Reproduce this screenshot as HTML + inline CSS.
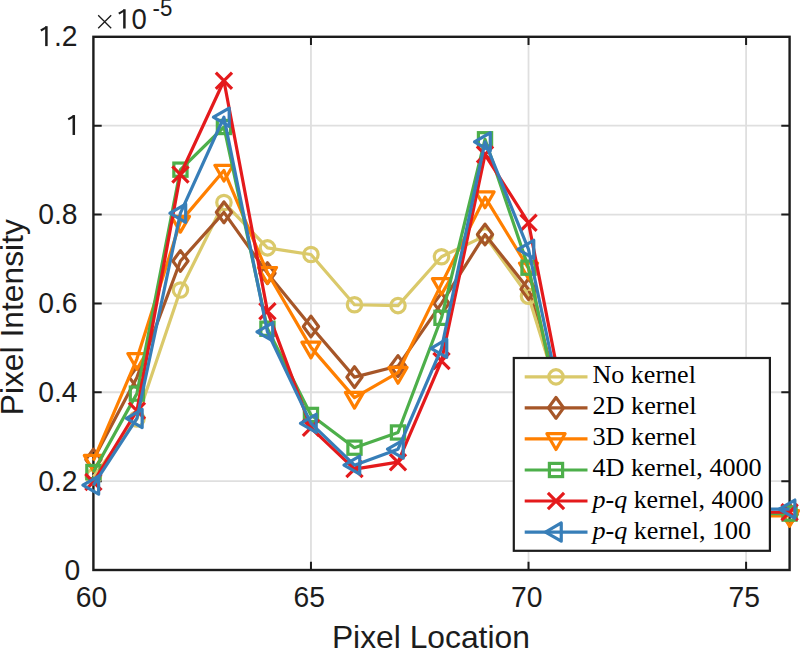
<!DOCTYPE html>
<html><head><meta charset="utf-8"><title>Pixel Intensity chart</title>
<style>
html,body{margin:0;padding:0;background:#fff;}
body{width:800px;height:649px;overflow:hidden;}
svg{display:block;}
</style></head>
<body>
<svg width="800" height="649" viewBox="0 0 800 649">
<rect x="0" y="0" width="800" height="649" fill="#fff"/>
<path d="M310.96,36.80V570.00M528.52,36.80V570.00M746.09,36.80V570.00M93.40,481.13H789.60M93.40,392.27H789.60M93.40,303.40H789.60M93.40,214.53H789.60M93.40,125.67H789.60" stroke="#dfdfdf" stroke-width="1.8" fill="none"/>
<path d="M310.96,570.00v-8.3M310.96,36.80v8.3M528.52,570.00v-8.3M528.52,36.80v8.3M746.09,570.00v-8.3M746.09,36.80v8.3M93.40,481.13h8.3M789.60,481.13h-8.3M93.40,392.27h8.3M789.60,392.27h-8.3M93.40,303.40h8.3M789.60,303.40h-8.3M93.40,214.53h8.3M789.60,214.53h-8.3M93.40,125.67h8.3M789.60,125.67h-8.3" stroke="#1c1c1c" stroke-width="2.0" fill="none"/>
<rect x="93.40" y="36.80" width="696.20" height="533.20" fill="none" stroke="#1c1c1c" stroke-width="2.4"/>
<defs><clipPath id="c"><rect x="93.4" y="36.8" width="696.2" height="533.2"/></clipPath></defs>
<g>
<polyline points="528.52,289.18 572.04,434.02 615.55,507.79 659.06,512.24 702.58,512.24 746.09,514.46 789.60,514.46" fill="none" stroke="#a65628" stroke-width="3.2" stroke-linejoin="round"/>
<polyline points="93.40,476.69 136.91,418.93 180.43,290.07 223.94,202.54 267.45,247.86 310.96,254.52 354.48,304.73 397.99,305.62 441.50,256.75 485.01,235.86 528.52,296.29 572.04,437.06 615.55,507.79 659.06,512.24 702.58,512.24 746.09,514.46 789.60,514.46" fill="none" stroke="#dac96a" stroke-width="3.2" stroke-linejoin="round"/>
<circle cx="93.40" cy="476.69" r="7.2" fill="none" stroke="#dac96a" stroke-width="3.2"/>
<circle cx="136.91" cy="418.93" r="7.2" fill="none" stroke="#dac96a" stroke-width="3.2"/>
<circle cx="180.43" cy="290.07" r="7.2" fill="none" stroke="#dac96a" stroke-width="3.2"/>
<circle cx="223.94" cy="202.54" r="7.2" fill="none" stroke="#dac96a" stroke-width="3.2"/>
<circle cx="267.45" cy="247.86" r="7.2" fill="none" stroke="#dac96a" stroke-width="3.2"/>
<circle cx="310.96" cy="254.52" r="7.2" fill="none" stroke="#dac96a" stroke-width="3.2"/>
<circle cx="354.48" cy="304.73" r="7.2" fill="none" stroke="#dac96a" stroke-width="3.2"/>
<circle cx="397.99" cy="305.62" r="7.2" fill="none" stroke="#dac96a" stroke-width="3.2"/>
<circle cx="441.50" cy="256.75" r="7.2" fill="none" stroke="#dac96a" stroke-width="3.2"/>
<circle cx="485.01" cy="235.86" r="7.2" fill="none" stroke="#dac96a" stroke-width="3.2"/>
<circle cx="528.52" cy="296.29" r="7.2" fill="none" stroke="#dac96a" stroke-width="3.2"/>
<circle cx="572.04" cy="437.06" r="7.2" fill="none" stroke="#dac96a" stroke-width="3.2"/>
<circle cx="615.55" cy="507.79" r="7.2" fill="none" stroke="#dac96a" stroke-width="3.2"/>
<circle cx="659.06" cy="512.24" r="7.2" fill="none" stroke="#dac96a" stroke-width="3.2"/>
<circle cx="702.58" cy="512.24" r="7.2" fill="none" stroke="#dac96a" stroke-width="3.2"/>
<circle cx="746.09" cy="514.46" r="7.2" fill="none" stroke="#dac96a" stroke-width="3.2"/>
<circle cx="789.60" cy="514.46" r="7.2" fill="none" stroke="#dac96a" stroke-width="3.2"/>
<polyline points="93.40,459.58 136.91,377.38 180.43,260.97 223.94,212.31 267.45,273.19 310.96,326.51 354.48,377.16 397.99,366.05 441.50,303.40 485.01,234.53 528.52,289.18" fill="none" stroke="#a65628" stroke-width="3.2" stroke-linejoin="round"/>
<polygon points="93.40,449.18 101.00,459.58 93.40,469.98 85.80,459.58" fill="none" stroke="#a65628" stroke-width="3.2" stroke-linejoin="round"/>
<polygon points="136.91,366.98 144.51,377.38 136.91,387.78 129.31,377.38" fill="none" stroke="#a65628" stroke-width="3.2" stroke-linejoin="round"/>
<polygon points="180.43,250.57 188.03,260.97 180.43,271.37 172.83,260.97" fill="none" stroke="#a65628" stroke-width="3.2" stroke-linejoin="round"/>
<polygon points="223.94,201.91 231.54,212.31 223.94,222.71 216.34,212.31" fill="none" stroke="#a65628" stroke-width="3.2" stroke-linejoin="round"/>
<polygon points="267.45,262.79 275.05,273.19 267.45,283.59 259.85,273.19" fill="none" stroke="#a65628" stroke-width="3.2" stroke-linejoin="round"/>
<polygon points="310.96,316.11 318.56,326.51 310.96,336.91 303.36,326.51" fill="none" stroke="#a65628" stroke-width="3.2" stroke-linejoin="round"/>
<polygon points="354.48,366.76 362.08,377.16 354.48,387.56 346.88,377.16" fill="none" stroke="#a65628" stroke-width="3.2" stroke-linejoin="round"/>
<polygon points="397.99,355.65 405.59,366.05 397.99,376.45 390.39,366.05" fill="none" stroke="#a65628" stroke-width="3.2" stroke-linejoin="round"/>
<polygon points="441.50,293.00 449.10,303.40 441.50,313.80 433.90,303.40" fill="none" stroke="#a65628" stroke-width="3.2" stroke-linejoin="round"/>
<polygon points="485.01,224.13 492.61,234.53 485.01,244.93 477.41,234.53" fill="none" stroke="#a65628" stroke-width="3.2" stroke-linejoin="round"/>
<polygon points="528.52,278.78 536.12,289.18 528.52,299.58 520.92,289.18" fill="none" stroke="#a65628" stroke-width="3.2" stroke-linejoin="round"/>
<polygon points="572.04,423.62 579.64,434.02 572.04,444.42 564.44,434.02" fill="none" stroke="#a65628" stroke-width="3.2" stroke-linejoin="round"/>
<polygon points="615.55,497.39 623.15,507.79 615.55,518.19 607.95,507.79" fill="none" stroke="#a65628" stroke-width="3.2" stroke-linejoin="round"/>
<polygon points="659.06,501.84 666.66,512.24 659.06,522.64 651.46,512.24" fill="none" stroke="#a65628" stroke-width="3.2" stroke-linejoin="round"/>
<polygon points="702.58,501.84 710.18,512.24 702.58,522.64 694.98,512.24" fill="none" stroke="#a65628" stroke-width="3.2" stroke-linejoin="round"/>
<polygon points="746.09,504.06 753.69,514.46 746.09,524.86 738.49,514.46" fill="none" stroke="#a65628" stroke-width="3.2" stroke-linejoin="round"/>
<polygon points="789.60,504.06 797.20,514.46 789.60,524.86 782.00,514.46" fill="none" stroke="#a65628" stroke-width="3.2" stroke-linejoin="round"/>
<polyline points="93.40,460.69 136.91,358.81 180.43,221.64 223.94,170.54 267.45,272.74 310.96,347.39 354.48,397.60 397.99,372.72 441.50,283.85 485.01,197.20 528.52,268.30 572.04,468.72 615.55,507.79 659.06,512.24 702.58,515.79 746.09,515.79 789.60,515.79" fill="none" stroke="#ff7f00" stroke-width="3.2" stroke-linejoin="round"/>
<polygon points="93.40,471.19 102.49,455.44 84.31,455.44" fill="none" stroke="#ff7f00" stroke-width="3.2" stroke-linejoin="round"/>
<polygon points="136.91,369.31 146.01,353.56 127.82,353.56" fill="none" stroke="#ff7f00" stroke-width="3.2" stroke-linejoin="round"/>
<polygon points="180.43,232.14 189.52,216.39 171.33,216.39" fill="none" stroke="#ff7f00" stroke-width="3.2" stroke-linejoin="round"/>
<polygon points="223.94,181.04 233.03,165.29 214.84,165.29" fill="none" stroke="#ff7f00" stroke-width="3.2" stroke-linejoin="round"/>
<polygon points="267.45,283.24 276.54,267.49 258.36,267.49" fill="none" stroke="#ff7f00" stroke-width="3.2" stroke-linejoin="round"/>
<polygon points="310.96,357.89 320.06,342.14 301.87,342.14" fill="none" stroke="#ff7f00" stroke-width="3.2" stroke-linejoin="round"/>
<polygon points="354.48,408.10 363.57,392.35 345.38,392.35" fill="none" stroke="#ff7f00" stroke-width="3.2" stroke-linejoin="round"/>
<polygon points="397.99,383.22 407.08,367.47 388.89,367.47" fill="none" stroke="#ff7f00" stroke-width="3.2" stroke-linejoin="round"/>
<polygon points="441.50,294.35 450.59,278.60 432.41,278.60" fill="none" stroke="#ff7f00" stroke-width="3.2" stroke-linejoin="round"/>
<polygon points="485.01,207.70 494.11,191.95 475.92,191.95" fill="none" stroke="#ff7f00" stroke-width="3.2" stroke-linejoin="round"/>
<polygon points="528.52,278.80 537.62,263.05 519.43,263.05" fill="none" stroke="#ff7f00" stroke-width="3.2" stroke-linejoin="round"/>
<polygon points="572.04,479.22 581.13,463.47 562.94,463.47" fill="none" stroke="#ff7f00" stroke-width="3.2" stroke-linejoin="round"/>
<polygon points="615.55,518.29 624.64,502.54 606.46,502.54" fill="none" stroke="#ff7f00" stroke-width="3.2" stroke-linejoin="round"/>
<polygon points="659.06,522.74 668.16,506.99 649.97,506.99" fill="none" stroke="#ff7f00" stroke-width="3.2" stroke-linejoin="round"/>
<polygon points="702.58,526.29 711.67,510.54 693.48,510.54" fill="none" stroke="#ff7f00" stroke-width="3.2" stroke-linejoin="round"/>
<polygon points="746.09,526.29 755.18,510.54 736.99,510.54" fill="none" stroke="#ff7f00" stroke-width="3.2" stroke-linejoin="round"/>
<polygon points="789.60,526.29 798.69,510.54 780.51,510.54" fill="none" stroke="#ff7f00" stroke-width="3.2" stroke-linejoin="round"/>
<polyline points="93.40,472.02 136.91,393.60 180.43,169.66 223.94,127.00 267.45,328.73 310.96,414.93 354.48,447.68 397.99,432.48 441.50,317.80 485.01,139.26 528.52,267.68 572.04,469.49 615.55,507.79 659.06,512.24 702.58,513.57 746.09,513.57 789.60,513.57" fill="none" stroke="#4daf4a" stroke-width="3.2" stroke-linejoin="round"/>
<rect x="86.80" y="465.42" width="13.20" height="13.20" fill="none" stroke="#4daf4a" stroke-width="3.2"/>
<rect x="130.31" y="387.00" width="13.20" height="13.20" fill="none" stroke="#4daf4a" stroke-width="3.2"/>
<rect x="173.83" y="163.06" width="13.20" height="13.20" fill="none" stroke="#4daf4a" stroke-width="3.2"/>
<rect x="217.34" y="120.40" width="13.20" height="13.20" fill="none" stroke="#4daf4a" stroke-width="3.2"/>
<rect x="260.85" y="322.13" width="13.20" height="13.20" fill="none" stroke="#4daf4a" stroke-width="3.2"/>
<rect x="304.36" y="408.33" width="13.20" height="13.20" fill="none" stroke="#4daf4a" stroke-width="3.2"/>
<rect x="347.88" y="441.08" width="13.20" height="13.20" fill="none" stroke="#4daf4a" stroke-width="3.2"/>
<rect x="391.39" y="425.88" width="13.20" height="13.20" fill="none" stroke="#4daf4a" stroke-width="3.2"/>
<rect x="434.90" y="311.20" width="13.20" height="13.20" fill="none" stroke="#4daf4a" stroke-width="3.2"/>
<rect x="478.41" y="132.66" width="13.20" height="13.20" fill="none" stroke="#4daf4a" stroke-width="3.2"/>
<rect x="521.92" y="261.08" width="13.20" height="13.20" fill="none" stroke="#4daf4a" stroke-width="3.2"/>
<rect x="565.44" y="462.89" width="13.20" height="13.20" fill="none" stroke="#4daf4a" stroke-width="3.2"/>
<rect x="608.95" y="501.19" width="13.20" height="13.20" fill="none" stroke="#4daf4a" stroke-width="3.2"/>
<rect x="652.46" y="505.64" width="13.20" height="13.20" fill="none" stroke="#4daf4a" stroke-width="3.2"/>
<rect x="695.98" y="506.97" width="13.20" height="13.20" fill="none" stroke="#4daf4a" stroke-width="3.2"/>
<rect x="739.49" y="506.97" width="13.20" height="13.20" fill="none" stroke="#4daf4a" stroke-width="3.2"/>
<rect x="783.00" y="506.97" width="13.20" height="13.20" fill="none" stroke="#4daf4a" stroke-width="3.2"/>
<polyline points="93.40,482.02 136.91,410.71 180.43,174.54 223.94,80.79 267.45,311.18 310.96,427.81 354.48,469.14 397.99,462.20 441.50,360.99 485.01,154.55 528.52,222.75 572.04,445.04 615.55,507.79 659.06,512.24 702.58,512.24 746.09,512.24 789.60,512.24" fill="none" stroke="#e41a1c" stroke-width="3.2" stroke-linejoin="round"/>
<path d="M85.30,473.92L101.50,490.12M101.50,473.92L85.30,490.12" fill="none" stroke="#e41a1c" stroke-width="3.2"/>
<path d="M128.81,402.61L145.01,418.81M145.01,402.61L128.81,418.81" fill="none" stroke="#e41a1c" stroke-width="3.2"/>
<path d="M172.33,166.44L188.53,182.64M188.53,166.44L172.33,182.64" fill="none" stroke="#e41a1c" stroke-width="3.2"/>
<path d="M215.84,72.69L232.04,88.89M232.04,72.69L215.84,88.89" fill="none" stroke="#e41a1c" stroke-width="3.2"/>
<path d="M259.35,303.08L275.55,319.28M275.55,303.08L259.35,319.28" fill="none" stroke="#e41a1c" stroke-width="3.2"/>
<path d="M302.86,419.71L319.06,435.91M319.06,419.71L302.86,435.91" fill="none" stroke="#e41a1c" stroke-width="3.2"/>
<path d="M346.38,461.04L362.58,477.24M362.58,461.04L346.38,477.24" fill="none" stroke="#e41a1c" stroke-width="3.2"/>
<path d="M389.89,454.10L406.09,470.30M406.09,454.10L389.89,470.30" fill="none" stroke="#e41a1c" stroke-width="3.2"/>
<path d="M433.40,352.89L449.60,369.09M449.60,352.89L433.40,369.09" fill="none" stroke="#e41a1c" stroke-width="3.2"/>
<path d="M476.91,146.45L493.11,162.65M493.11,146.45L476.91,162.65" fill="none" stroke="#e41a1c" stroke-width="3.2"/>
<path d="M520.42,214.65L536.62,230.85M536.62,214.65L520.42,230.85" fill="none" stroke="#e41a1c" stroke-width="3.2"/>
<path d="M563.94,436.94L580.14,453.14M580.14,436.94L563.94,453.14" fill="none" stroke="#e41a1c" stroke-width="3.2"/>
<path d="M607.45,499.69L623.65,515.89M623.65,499.69L607.45,515.89" fill="none" stroke="#e41a1c" stroke-width="3.2"/>
<path d="M650.96,504.14L667.16,520.34M667.16,504.14L650.96,520.34" fill="none" stroke="#e41a1c" stroke-width="3.2"/>
<path d="M694.48,504.14L710.68,520.34M710.68,504.14L694.48,520.34" fill="none" stroke="#e41a1c" stroke-width="3.2"/>
<path d="M737.99,504.14L754.19,520.34M754.19,504.14L737.99,520.34" fill="none" stroke="#e41a1c" stroke-width="3.2"/>
<path d="M781.50,504.14L797.70,520.34M797.70,504.14L781.50,520.34" fill="none" stroke="#e41a1c" stroke-width="3.2"/>
<polyline points="93.40,485.13 136.91,418.48 180.43,213.20 223.94,117.22 267.45,331.84 310.96,423.37 354.48,465.14 397.99,449.14 441.50,348.28 485.01,141.84 528.52,249.37 572.04,454.21 615.55,507.79 659.06,509.13 702.58,509.13 746.09,509.13 789.60,509.13" fill="none" stroke="#377eb8" stroke-width="3.2" stroke-linejoin="round"/>
<polygon points="82.90,485.13 98.65,476.04 98.65,494.23" fill="none" stroke="#377eb8" stroke-width="3.2" stroke-linejoin="round"/>
<polygon points="126.41,418.48 142.16,409.39 142.16,427.58" fill="none" stroke="#377eb8" stroke-width="3.2" stroke-linejoin="round"/>
<polygon points="169.93,213.20 185.68,204.11 185.68,222.29" fill="none" stroke="#377eb8" stroke-width="3.2" stroke-linejoin="round"/>
<polygon points="213.44,117.22 229.19,108.13 229.19,126.32" fill="none" stroke="#377eb8" stroke-width="3.2" stroke-linejoin="round"/>
<polygon points="256.95,331.84 272.70,322.74 272.70,340.93" fill="none" stroke="#377eb8" stroke-width="3.2" stroke-linejoin="round"/>
<polygon points="300.46,423.37 316.21,414.28 316.21,432.46" fill="none" stroke="#377eb8" stroke-width="3.2" stroke-linejoin="round"/>
<polygon points="343.98,465.14 359.73,456.04 359.73,474.23" fill="none" stroke="#377eb8" stroke-width="3.2" stroke-linejoin="round"/>
<polygon points="387.49,449.14 403.24,440.05 403.24,458.23" fill="none" stroke="#377eb8" stroke-width="3.2" stroke-linejoin="round"/>
<polygon points="431.00,348.28 446.75,339.18 446.75,357.37" fill="none" stroke="#377eb8" stroke-width="3.2" stroke-linejoin="round"/>
<polygon points="474.51,141.84 490.26,132.75 490.26,150.93" fill="none" stroke="#377eb8" stroke-width="3.2" stroke-linejoin="round"/>
<polygon points="518.02,249.37 533.77,240.28 533.77,258.46" fill="none" stroke="#377eb8" stroke-width="3.2" stroke-linejoin="round"/>
<polygon points="561.54,454.21 577.29,445.12 577.29,463.31" fill="none" stroke="#377eb8" stroke-width="3.2" stroke-linejoin="round"/>
<polygon points="605.05,507.79 620.80,498.70 620.80,516.89" fill="none" stroke="#377eb8" stroke-width="3.2" stroke-linejoin="round"/>
<polygon points="648.56,509.13 664.31,500.03 664.31,518.22" fill="none" stroke="#377eb8" stroke-width="3.2" stroke-linejoin="round"/>
<polygon points="692.08,509.13 707.83,500.03 707.83,518.22" fill="none" stroke="#377eb8" stroke-width="3.2" stroke-linejoin="round"/>
<polygon points="735.59,509.13 751.34,500.03 751.34,518.22" fill="none" stroke="#377eb8" stroke-width="3.2" stroke-linejoin="round"/>
<polygon points="779.10,509.13 794.85,500.03 794.85,518.22" fill="none" stroke="#377eb8" stroke-width="3.2" stroke-linejoin="round"/>
</g>
<text transform="translate(91.60,606.8) scale(1,1.045)" font-size="28.3" text-anchor="middle" font-family="Liberation Sans, sans-serif" fill="#1c1c1c">60</text>
<text transform="translate(309.16,606.8) scale(1,1.045)" font-size="28.3" text-anchor="middle" font-family="Liberation Sans, sans-serif" fill="#1c1c1c">65</text>
<text transform="translate(526.73,606.8) scale(1,1.045)" font-size="28.3" text-anchor="middle" font-family="Liberation Sans, sans-serif" fill="#1c1c1c">70</text>
<text transform="translate(744.29,606.8) scale(1,1.045)" font-size="28.3" text-anchor="middle" font-family="Liberation Sans, sans-serif" fill="#1c1c1c">75</text>
<text transform="translate(80.2,579.50) scale(1,1.045)" font-size="28.3" text-anchor="end" font-family="Liberation Sans, sans-serif" fill="#1c1c1c">0</text>
<text transform="translate(77.5,490.63) scale(1,1.045)" font-size="28.3" text-anchor="end" font-family="Liberation Sans, sans-serif" fill="#1c1c1c">0.2</text>
<text transform="translate(77.5,401.77) scale(1,1.045)" font-size="28.3" text-anchor="end" font-family="Liberation Sans, sans-serif" fill="#1c1c1c">0.4</text>
<text transform="translate(77.5,312.90) scale(1,1.045)" font-size="28.3" text-anchor="end" font-family="Liberation Sans, sans-serif" fill="#1c1c1c">0.6</text>
<text transform="translate(77.5,224.03) scale(1,1.045)" font-size="28.3" text-anchor="end" font-family="Liberation Sans, sans-serif" fill="#1c1c1c">0.8</text>
<text transform="translate(77.5,46.30) scale(1,1.045)" font-size="28.3" text-anchor="end" font-family="Liberation Sans, sans-serif" fill="#1c1c1c">.2</text>
<path d="M72.55,134.97V115.07H75.05V134.97Z" fill="#1c1c1c"/><path d="M74.10,115.97L68.20,119.37" stroke="#1c1c1c" stroke-width="2.1" fill="none"/>
<path d="M45.15,46.10V26.20H47.65V46.10Z" fill="#1c1c1c"/><path d="M46.70,27.10L40.80,30.50" stroke="#1c1c1c" stroke-width="2.1" fill="none"/>
<path d="M98.2,15.2L111.2,28.2M111.2,15.2L98.2,28.2" stroke="#1c1c1c" stroke-width="1.3" fill="none"/>
<path d="M123.15,28.50V9.30H125.65V28.50Z" fill="#1c1c1c"/><path d="M124.70,10.20L118.80,13.60" stroke="#1c1c1c" stroke-width="2.1" fill="none"/>
<text transform="translate(131.6,28.5) scale(1,1.045)" font-size="27.5" font-family="Liberation Sans, sans-serif" fill="#1c1c1c">0</text>
<text transform="translate(152.6,15.7) scale(1,1.06)" font-size="22.3" font-family="Liberation Sans, sans-serif" fill="#1c1c1c">-5</text>
<text x="331.9" y="647.6" font-size="31.8" font-family="Liberation Sans, sans-serif" fill="#1c1c1c">Pixel Location</text>
<text transform="translate(23.4,415.3) rotate(-90)" font-size="31.8" font-family="Liberation Sans, sans-serif" fill="#1c1c1c">Pixel Intensity</text>
<rect x="513.8" y="358.0" width="256.10" height="192.80" fill="#fff" stroke="#1c1c1c" stroke-width="2.2"/>
<line x1="524.7" y1="376.90" x2="587.5" y2="376.90" stroke="#dac96a" stroke-width="3.2"/>
<circle cx="556.00" cy="376.90" r="7.2" fill="none" stroke="#dac96a" stroke-width="3.2"/>
<text x="592.5" y="383.40" font-size="24.5" font-family="Liberation Serif, serif" fill="#000" textLength="103.4" lengthAdjust="spacingAndGlyphs">No kernel</text>
<line x1="524.7" y1="407.93" x2="587.5" y2="407.93" stroke="#a65628" stroke-width="3.2"/>
<polygon points="556.00,397.53 563.60,407.93 556.00,418.33 548.40,407.93" fill="none" stroke="#a65628" stroke-width="3.2" stroke-linejoin="round"/>
<text x="592.5" y="414.43" font-size="24.5" font-family="Liberation Serif, serif" fill="#000" textLength="104.0" lengthAdjust="spacingAndGlyphs">2D kernel</text>
<line x1="524.7" y1="438.96" x2="587.5" y2="438.96" stroke="#ff7f00" stroke-width="3.2"/>
<polygon points="556.00,449.46 565.09,433.71 546.91,433.71" fill="none" stroke="#ff7f00" stroke-width="3.2" stroke-linejoin="round"/>
<text x="592.5" y="445.46" font-size="24.5" font-family="Liberation Serif, serif" fill="#000" textLength="104.0" lengthAdjust="spacingAndGlyphs">3D kernel</text>
<line x1="524.7" y1="469.99" x2="587.5" y2="469.99" stroke="#4daf4a" stroke-width="3.2"/>
<rect x="549.40" y="463.39" width="13.20" height="13.20" fill="none" stroke="#4daf4a" stroke-width="3.2"/>
<text x="592.5" y="476.49" font-size="24.5" font-family="Liberation Serif, serif" fill="#000" textLength="169.2" lengthAdjust="spacingAndGlyphs">4D kernel, 4000</text>
<line x1="524.7" y1="501.02" x2="587.5" y2="501.02" stroke="#e41a1c" stroke-width="3.2"/>
<path d="M547.90,492.92L564.10,509.12M564.10,492.92L547.90,509.12" fill="none" stroke="#e41a1c" stroke-width="3.2"/>
<text x="592.5" y="507.52" font-size="24.5" font-family="Liberation Serif, serif" fill="#000" textLength="171.0" lengthAdjust="spacingAndGlyphs"><tspan font-style="italic">p</tspan>-<tspan font-style="italic">q</tspan> kernel, 4000</text>
<line x1="524.7" y1="532.05" x2="587.5" y2="532.05" stroke="#377eb8" stroke-width="3.2"/>
<polygon points="545.50,532.05 561.25,522.96 561.25,541.14" fill="none" stroke="#377eb8" stroke-width="3.2" stroke-linejoin="round"/>
<text x="592.5" y="538.55" font-size="24.5" font-family="Liberation Serif, serif" fill="#000" textLength="158.6" lengthAdjust="spacingAndGlyphs"><tspan font-style="italic">p</tspan>-<tspan font-style="italic">q</tspan> kernel, 100</text>
</svg>
</body></html>
